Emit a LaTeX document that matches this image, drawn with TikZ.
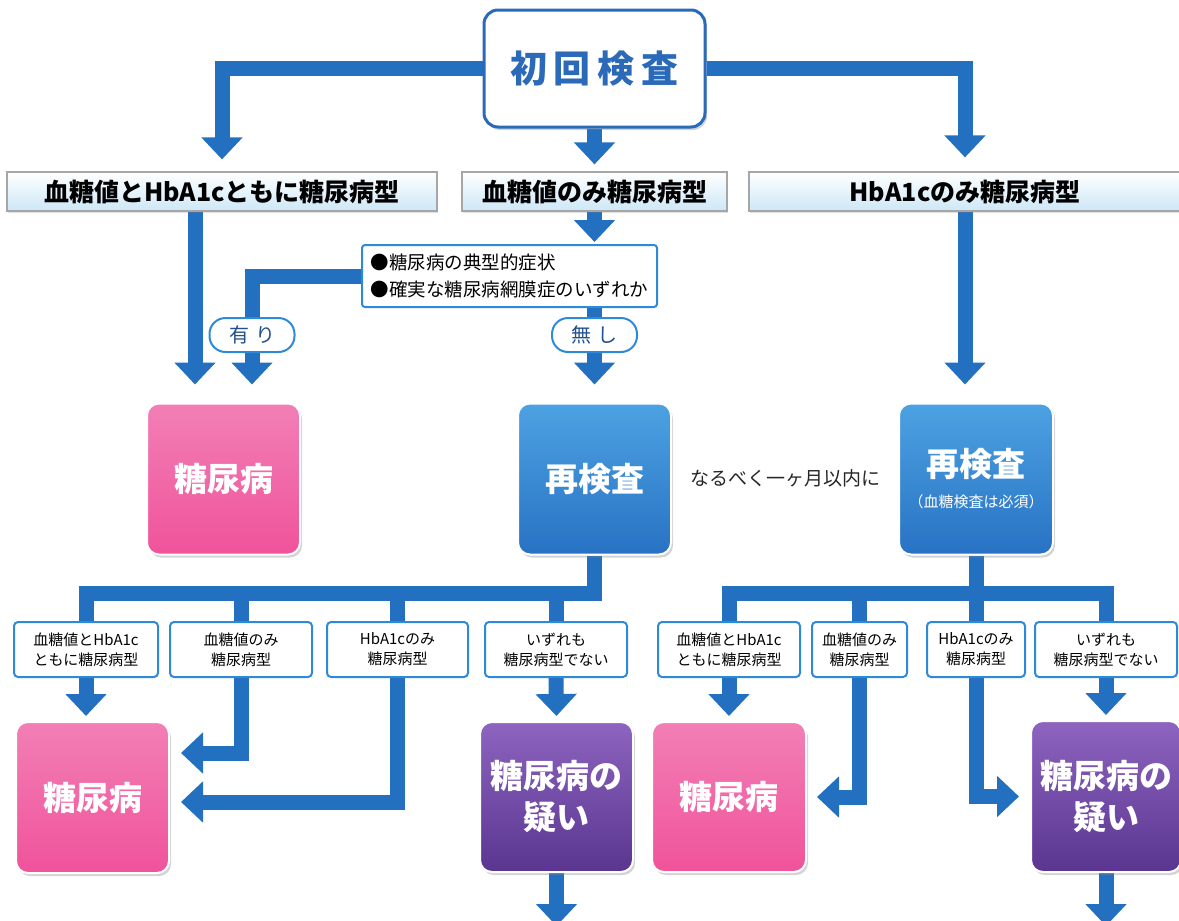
\documentclass[tikz,border=0pt]{standalone}
\usepackage{fontspec}
\setmainfont{Noto Sans CJK JP}
\usepackage{tikz}
\usetikzlibrary{arrows.meta}
\usetikzlibrary{calc}
\usetikzlibrary{shadows}
\usetikzlibrary{backgrounds}
\definecolor{arrowblue}{HTML}{2470C0}
\definecolor{lineblue}{HTML}{2E8AD8}
\definecolor{topblue}{HTML}{2A6AB8}
\definecolor{paleblue}{HTML}{CDE7F7}
\definecolor{pinktop}{HTML}{F27FB5}
\definecolor{pinkbot}{HTML}{F0539B}
\definecolor{purtop}{HTML}{8D64BF}
\definecolor{purbot}{HTML}{5A3690}
\definecolor{retop}{HTML}{4DA2E2}
\definecolor{rebot}{HTML}{2872C4}
\definecolor{pilltext}{HTML}{23508E}
\begin{document}
\begin{tikzpicture}[x=1pt,y=-1pt,line join=miter,
  flow/.style={draw=arrowblue,line width=15pt,-{Triangle[width=40pt,length=22pt]}},
  bar/.style={draw=arrowblue,line width=15pt},
  kind/.style={draw=gray!70,line width=1.2pt,top color=white,bottom color=paleblue,minimum height=39pt,inner sep=0pt,font=\fontsize{25}{25}\selectfont\bfseries,drop shadow={opacity=0.25,shadow xshift=1pt,shadow yshift=-2pt}},
  sub/.style={draw=lineblue,line width=2pt,fill=white,rounded corners=4pt,minimum width=142pt,minimum height=55pt,inner sep=0pt,align=center,font=\fontsize{15}{20}\selectfont},
  big/.style={draw=white,line width=2pt,rounded corners=12pt,minimum width=153pt,minimum height=151pt,inner sep=0pt,align=center,text=white,font=\fontsize{33}{41}\selectfont\bfseries,drop shadow={opacity=0.35,shadow xshift=2pt,shadow yshift=-3pt}},
  dmbox/.style={big,top color=pinktop,bottom color=pinkbot},
  susbox/.style={big,top color=purtop,bottom color=purbot},
  rebox/.style={big,top color=retop,bottom color=rebot},
  pill/.style={draw=lineblue,line width=2pt,fill=white,rounded corners=16pt,minimum width=85pt,minimum height=34pt,inner sep=0pt,text=pilltext,font=\fontsize{20}{20}\selectfont}]
\useasboundingbox (0,0) rectangle (1179,921);

\node[draw=topblue,line width=3pt,fill=white,rounded corners=14pt,minimum width=221pt,minimum height=117pt,inner sep=0pt,text=topblue,font=\fontsize{37}{37}\selectfont\bfseries,drop shadow={opacity=0.35,shadow xshift=2pt,shadow yshift=-3pt}] (first) at (594.5,68.5) {初\hspace{7pt}回\hspace{7pt}検\hspace{7pt}査};

\node[kind,minimum width=430pt] (both) at (222,191.5) {血糖値とHbA1cともに糖尿病型};
\node[kind,minimum width=265pt] (glu) at (594.5,191.5) {血糖値のみ糖尿病型};
\node[kind,minimum width=432pt] (hba) at (965,191.5) {HbA1cのみ糖尿病型};

\node[draw=lineblue,line width=2pt,fill=white,rounded corners=3pt,minimum width=295pt,minimum height=62pt,inner sep=0pt,align=left,font=\fontsize{18.5}{27}\selectfont] (cond) at (509.5,276) {●糖尿病の典型的症状\\●確実な糖尿病網膜症のいずれか};

\node[dmbox] (dm) at (223.5,479) {糖尿病};
\node[rebox] (re1) at (594.5,479) {再検査};
\node[font=\fontsize{19}{19}\selectfont,text=black!85] (note) at (785,478) {なるべく一ヶ月以内に};
\node[rebox,minimum width=154pt] (re2) at (976,479) {再検査\\[-10pt]\fontsize{15}{18}\selectfont\mdseries（血糖検査は必須）};

\node[sub,minimum width=144pt] (la) at (86,649.5) {血糖値とHbA1c\\ともに糖尿病型};
\node[sub] (lb) at (241,649.5) {血糖値のみ\\糖尿病型};
\node[sub,minimum width=141pt] (lc) at (397.5,649.5) {HbA1cのみ\\糖尿病型};
\node[sub] (ld) at (556,649.5) {いずれも\\糖尿病型でない};
\node[sub] (ra) at (729,649.5) {血糖値とHbA1c\\ともに糖尿病型};
\node[sub,minimum width=95pt] (rb) at (859.5,649.5) {血糖値のみ\\糖尿病型};
\node[sub,minimum width=98pt] (rc) at (976,649.5) {HbA1cのみ\\糖尿病型};
\node[sub] (rd) at (1106,649.5) {いずれも\\糖尿病型でない};

\node[dmbox] (dmL) at (92.5,797.5) {糖尿病};
\node[susbox,minimum height=150pt] (susL) at (556.5,797) {糖尿病の\\疑い};
\node[dmbox,minimum width=154pt,minimum height=150pt] (dmR) at (729,797) {糖尿病};
\node[susbox,minimum width=150pt] (susR) at (1106,796.5) {糖尿病の\\疑い};

\begin{pgfonlayer}{background}
\draw[flow] (first.west) -| ([yshift=12pt]both.north);
\draw[flow] (first.south) -- ([yshift=7pt]glu.north);
\draw[flow] (first.east) -| ([yshift=14pt]hba.north);
\draw[flow] ([xshift=-27pt]both.south) -- ([xshift=-28.5pt,yshift=18pt]dm.north);
\draw[flow] (glu.south) -- ($(glu.south |- cond.north)+(0,-2)$);
\draw[flow] (cond.west) -| ([xshift=28.5pt,yshift=18pt]dm.north);
\draw[flow] (glu.south |- cond.south) -- ([yshift=18pt]re1.north);
\draw[flow] (hba.south) -- ([xshift=-11pt,yshift=18pt]re2.north);

\coordinate (jl) at ([yshift=-38pt]re1.south);
\coordinate (jr) at ([yshift=-38pt]re2.south);
\foreach \n in {la,lb,lc,ld} \draw[bar] (re1.south) -- (jl) -| (\n.north);
\foreach \n in {ra,rb,rc,rd} \draw[bar] (re2.south) -- (jr) -| (\n.north);

\draw[flow] (la.south) -- ($(la.south |- dmL.north)+(0,-5)$);
\draw[flow] (lb.south) |- ($(dmL.east)+(11,-44.5)$);
\draw[flow] (lc.south) |- ($(dmL.east)+(11,4.5)$);
\draw[flow] (ld.south) -- ($(susL.north)+(0,-5)$);
\draw[flow] (susL.south) -- ++(0,53);

\draw[flow] (ra.south) -- ($(dmR.north)+(0,-5)$);
\draw[flow] (rb.south) |- ($(dmR.east)+(10,0)$);
\draw[flow] (rc.south) |- ($(susR.west)+(-11,0)$);
\draw[flow] (rd.south) -- ($(susR.north)+(0,-5)$);
\draw[flow] (susR.south) -- ++(0,53);
\end{pgfonlayer}

\node[pill] (yes) at (252,335) {有\hspace{6pt}り};
\node[pill] (no) at (594.5,335) {無\hspace{6pt}し};
\end{tikzpicture}
\end{document}
